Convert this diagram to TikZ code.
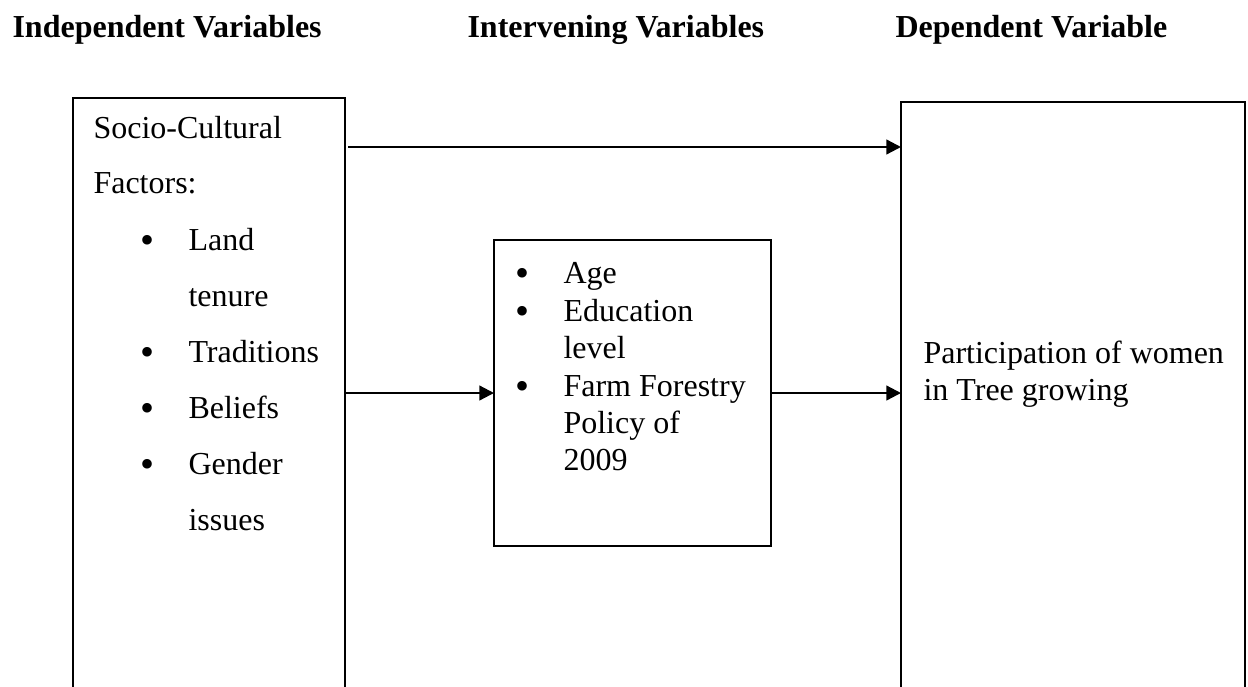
\documentclass[tikz,border=0pt]{standalone}
\usepackage{fontspec}
\setmainfont{Liberation Serif}
\usetikzlibrary{arrows.meta}
\begin{document}
\begin{tikzpicture}[x=0.375pt,y=-0.375pt,
  box/.style={draw,line width=0.75pt,inner sep=0,outer sep=0},
  arr/.style={line width=0.85pt,-{Triangle[length=5.5pt,width=5.5pt]}},
  txt/.style={anchor=base west,inner sep=0,font=\fontsize{12}{14}\selectfont},
  bul/.style={anchor=base,inner sep=0,font=\fontsize{15}{15}\selectfont},
  head/.style={anchor=base west,inner sep=0,font=\fontsize{12}{14}\selectfont\bfseries}]
\useasboundingbox (0,0) rectangle (1248,686);
\fill[white] (0,0) rectangle (1248,686);
\begin{scope}
\clip (-2,-2) rectangle (1250,686);
\node[box,minimum width=272*0.375pt,minimum height=650*0.375pt,anchor=north west] (L) at (73,98) {};
\node[box,minimum width=277*0.375pt,minimum height=306*0.375pt,anchor=north west] (M) at (494,240) {};
\node[box,minimum width=344*0.375pt,minimum height=650*0.375pt,anchor=north west] (R) at (901,102) {};
\end{scope}
% headings
\node[head] (h1) at (12,37) {Independent Variables};
\node[head] (h2) at (467,37) {Intervening Variables};
\node[head] (h3) at (895,37) {Dependent Variable};
% left box text
\node[txt] (l1) at (93,138) {Socio-Cultural};
\node[txt] (l2) at (93,193) {Factors:};
\node[bul] (b1) at (148,253) {•};
\node[txt] (l3) at (188,250) {Land};
\node[txt] (l4) at (188,306) {tenure};
\node[bul] (b2) at (148,365) {•};
\node[txt] (l5) at (188,362) {Traditions};
\node[bul] (b3) at (148,421) {•};
\node[txt] (l6) at (188,418) {Beliefs};
\node[bul] (b4) at (148,477) {•};
\node[txt] (l7) at (188,474) {Gender};
\node[txt] (l8) at (188,530) {issues};
% middle box text
\node[bul] (m1) at (522,286) {•};
\node[txt] (t1) at (563,283) {Age};
\node[bul] (m2) at (522,324) {•};
\node[txt] (t2) at (563,321) {Education};
\node[txt] (t3) at (563,358) {level};
\node[bul] (m3) at (522,399) {•};
\node[txt] (t4) at (563,396) {Farm Forestry};
\node[txt] (t5) at (563,433) {Policy of};
\node[txt] (t6) at (563,470) {2009};
% right box text
\node[txt] (r1) at (923,363) {Participation of women};
\node[txt] (r2) at (923,400) {in Tree growing};
% arrows
\coordinate (ytop) at (0,147);
\draw[arr] (L.east |- ytop) ++(3,0) -- (R.west |- ytop);
\draw[arr] (L.east |- M.west) -- (M.west);
\draw[arr] (M.east) -- (R.west |- M.east);
\end{tikzpicture}
\end{document}
